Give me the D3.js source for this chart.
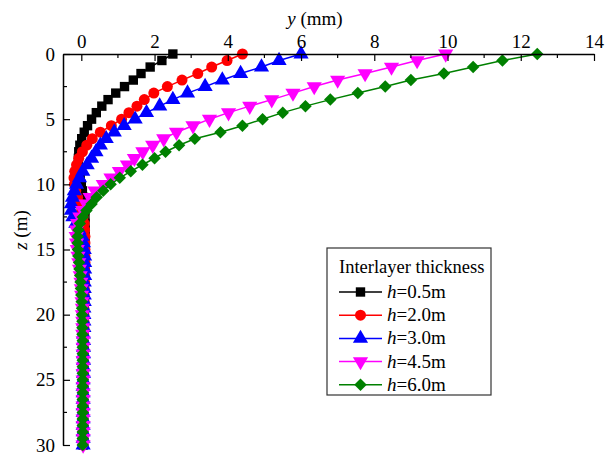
<!DOCTYPE html>
<html>
<head>
<meta charset="utf-8">
<script src="https://cdn.jsdelivr.net/npm/d3@7"></script>
<style>
  body { margin: 0; background: #fff; }
  text { font-family: "Liberation Serif", "Times New Roman", serif; }
</style>
</head>
<body>
<div id="vis-container"></div>
<script>
// depth of each computed node (m)
const depth = [0, 0.5, 1, 1.5, 2, 2.5, 3, 3.5, 4, 4.5, 5, 5.5, 6, 6.5, 7, 7.5, 8, 8.5, 9, 9.5,
  10, 10.5, 11, 11.5, 12, 12.5, 13, 13.5, 14, 14.5, 15, 15.5, 16, 16.5, 17, 17.5, 18, 18.5, 19, 19.5,
  20, 20.5, 21, 21.5, 22, 22.5, 23, 23.5, 24, 24.5, 25, 25.5, 26, 26.5, 27, 27.5, 28, 28.5, 29, 29.5, 30];

// lateral displacement y (mm) for each interlayer thickness
const h05 = [2.5, 2.2, 1.88, 1.63, 1.42, 1.18, 0.94, 0.73, 0.56, 0.41,
  0.28, 0.17, 0.08, 0.01, -0.04, -0.07, -0.08, -0.08, -0.06, -0.03,
  0.0, 0.03, 0.06, 0.08, 0.09, 0.1, 0.1, 0.1, 0.1, 0.1,
  0.1, 0.09, 0.09, 0.09, 0.08, 0.08, 0.08, 0.07, 0.07, 0.07,
  0.07, 0.06, 0.06, 0.06, 0.06, 0.06, 0.06, 0.06, 0.06, 0.06,
  0.05, 0.05, 0.05, 0.05, 0.05, 0.05, 0.05, 0.05, 0.05, 0.05, 0.05];
const h20 = [4.4, 3.98, 3.56, 3.18, 2.75, 2.35, 1.98, 1.72, 1.52, 1.3,
  1.1, 0.82, 0.52, 0.3, 0.15, 0.03, -0.07, -0.13, -0.18, -0.2,
  -0.19, -0.15, -0.1, -0.04, 0.01, 0.05, 0.08, 0.09, 0.1, 0.1,
  0.1, 0.1, 0.1, 0.09, 0.09, 0.09, 0.08, 0.08, 0.08, 0.07,
  0.07, 0.07, 0.07, 0.06, 0.06, 0.06, 0.06, 0.06, 0.06, 0.06,
  0.05, 0.05, 0.05, 0.05, 0.05, 0.05, 0.05, 0.05, 0.05, 0.05, 0.05];
const h30 = [6.0, 5.4, 4.92, 4.35, 3.85, 3.38, 2.9, 2.5, 2.14, 1.78,
  1.47, 1.17, 0.9, 0.68, 0.52, 0.4, 0.28, 0.16, 0.04, -0.05,
  -0.13, -0.19, -0.24, -0.27, -0.27, -0.23, -0.15, -0.06, 0.02, 0.06,
  0.08, 0.09, 0.09, 0.09, 0.09, 0.08, 0.08, 0.08, 0.08, 0.07,
  0.07, 0.07, 0.07, 0.06, 0.06, 0.06, 0.06, 0.06, 0.06, 0.06,
  0.05, 0.05, 0.05, 0.05, 0.05, 0.05, 0.05, 0.05, 0.05, 0.05, 0.05];
const h45 = [9.95, 9.17, 8.47, 7.75, 7.0, 6.36, 5.78, 5.2, 4.6, 4.02,
  3.5, 3.05, 2.6, 2.25, 1.95, 1.68, 1.45, 1.26, 1.04, 0.81,
  0.6, 0.37, 0.24, 0.13, 0.04, -0.04, -0.1, -0.13, -0.14, -0.13,
  -0.11, -0.09, -0.07, -0.05, -0.03, -0.01, 0.0, 0.01, 0.02, 0.03,
  0.03, 0.04, 0.04, 0.04, 0.05, 0.05, 0.05, 0.05, 0.05, 0.05,
  0.05, 0.05, 0.05, 0.05, 0.05, 0.05, 0.05, 0.05, 0.05, 0.05, 0.05];
const h60 = [12.45, 11.5, 10.7, 9.9, 9.0, 8.3, 7.55, 6.8, 6.12, 5.5,
  4.95, 4.4, 3.8, 3.1, 2.67, 2.3, 2.0, 1.67, 1.35, 1.05,
  0.8, 0.6, 0.42, 0.28, 0.14, 0.04, -0.04, -0.08, -0.1, -0.1,
  -0.09, -0.08, -0.06, -0.05, -0.03, -0.02, -0.01, 0.0, 0.01, 0.02,
  0.02, 0.03, 0.03, 0.03, 0.04, 0.04, 0.04, 0.04, 0.04, 0.04,
  0.04, 0.04, 0.04, 0.04, 0.04, 0.04, 0.04, 0.04, 0.04, 0.04, 0.04];

const seriesNames = ["h=0.5m", "h=2.0m", "h=3.0m", "h=4.5m", "h=6.0m"];
const seriesValues = [h05, h20, h30, h45, h60];

const xTicks = [0, 2, 4, 6, 8, 10, 12, 14];
const xMinor = [1, 3, 5, 7, 9, 11, 13];
const zTicks = [0, 5, 10, 15, 20, 25, 30];
const zMinor = [2.5, 7.5, 12.5, 17.5, 22.5, 27.5];

const colors = ["#000000", "#ff0000", "#0000ff", "#ff00ff", "#008000"];
const shapes = [
  { type: d3.symbolSquare, size: 88, rot: 0 },
  { type: d3.symbolCircle, size: 95, rot: 0 },
  { type: d3.symbolTriangle, size: 100, rot: 0 },
  { type: d3.symbolTriangle, size: 100, rot: 180 },
  { type: d3.symbolSquare, size: 78, rot: 45 }
];

const width = 614, height = 457;
const serif = "'Liberation Serif', 'Times New Roman', serif";

const svg = d3.select("#vis-container")
  .append("svg")
  .attr("width", width)
  .attr("height", height);

// scales
const x = d3.scaleLinear().domain([-0.5, 14]).range([63, 594]);
const z = d3.scaleLinear().domain([0, 30]).range([54, 445]);

// lines + markers, drawn so h=6.0 ends up on top
const line = d3.line()
  .x((d) => x(d.y))
  .y((d) => z(d.z));

seriesValues.forEach((vals, i) => {
  const pts = vals.map((v, j) => ({ y: v, z: depth[j] }));
  const g = svg.append("g").attr("class", "series");
  g.append("path")
    .datum(pts)
    .attr("d", line)
    .attr("fill", "none")
    .attr("stroke", colors[i])
    .attr("stroke-width", 1.5);
  g.selectAll("path.mark")
    .data(pts)
    .enter()
    .append("path")
    .attr("class", "mark")
    .attr("d", d3.symbol().type(shapes[i].type).size(shapes[i].size))
    .attr("transform", (d) => "translate(" + x(d.y) + "," + z(d.z) + ") rotate(" + shapes[i].rot + ")")
    .attr("fill", colors[i]);
});

// top axis (y, mm)
const xAxis = svg.append("g")
  .attr("transform", "translate(0,54)")
  .call(d3.axisTop(x).tickValues(xTicks).tickSizeInner(-7).tickSizeOuter(0).tickPadding(6));
xAxis.attr("font-family", null);
xAxis.select(".domain").attr("stroke-width", 1.5);
xAxis.selectAll(".tick line").attr("stroke-width", 1.2);
xAxis.selectAll(".tick text").style("font-family", serif).style("font-size", "19px");
xAxis.selectAll(".minor")
  .data(xMinor)
  .enter()
  .append("line")
  .attr("class", "minor")
  .attr("x1", (d) => x(d))
  .attr("x2", (d) => x(d))
  .attr("y1", 0)
  .attr("y2", 4)
  .attr("stroke", "#000")
  .attr("stroke-width", 1.2);

// left axis (z, m)
const zAxis = svg.append("g")
  .attr("transform", "translate(63,0)")
  .call(d3.axisLeft(z).tickValues(zTicks).tickSizeInner(-7).tickSizeOuter(0).tickPadding(8));
zAxis.attr("font-family", null);
zAxis.select(".domain").attr("stroke-width", 1.5);
zAxis.selectAll(".tick line").attr("stroke-width", 1.2);
zAxis.selectAll(".tick text").style("font-family", serif).style("font-size", "19px");
zAxis.selectAll(".minor")
  .data(zMinor)
  .enter()
  .append("line")
  .attr("class", "minor")
  .attr("x1", 0)
  .attr("x2", 4)
  .attr("y1", (d) => z(d))
  .attr("y2", (d) => z(d))
  .attr("stroke", "#000")
  .attr("stroke-width", 1.2);

// axis titles
const xTitle = svg.append("text")
  .attr("x", 315)
  .attr("y", 25)
  .attr("text-anchor", "middle")
  .attr("font-size", 19);
xTitle.append("tspan").attr("font-style", "italic").text("y");
xTitle.append("tspan").text(" (mm)");

const zTitle = svg.append("text")
  .attr("transform", "translate(27,230) rotate(-90)")
  .attr("text-anchor", "middle")
  .attr("font-size", 19);
zTitle.append("tspan").attr("font-style", "italic").text("z");
zTitle.append("tspan").text(" (m)");

// legend
const legend = svg.append("g").attr("transform", "translate(327,248)");
legend.append("rect")
  .attr("width", 164)
  .attr("height", 147)
  .attr("fill", "#fff")
  .attr("stroke", "#333")
  .attr("stroke-width", 1.2);
legend.append("text")
  .attr("x", 12)
  .attr("y", 25)
  .attr("font-size", 18.5)
  .text("Interlayer thickness");

seriesNames.forEach((name, i) => {
  const cy = 44 + i * 23.2;
  const item = legend.append("g").attr("transform", "translate(0," + cy + ")");
  item.append("line")
    .attr("x1", 12).attr("x2", 55)
    .attr("y1", 0).attr("y2", 0)
    .attr("stroke", colors[i])
    .attr("stroke-width", 1.5);
  item.append("path")
    .attr("d", d3.symbol().type(shapes[i].type).size(shapes[i].size))
    .attr("transform", "translate(33.5,0) rotate(" + shapes[i].rot + ")")
    .attr("fill", colors[i]);
  const t = item.append("text")
    .attr("x", 60)
    .attr("y", 6)
    .attr("font-size", 19);
  t.append("tspan").attr("font-style", "italic").text(name.slice(0, 1));
  t.append("tspan").text(name.slice(1));
});
</script>
</body>
</html>
